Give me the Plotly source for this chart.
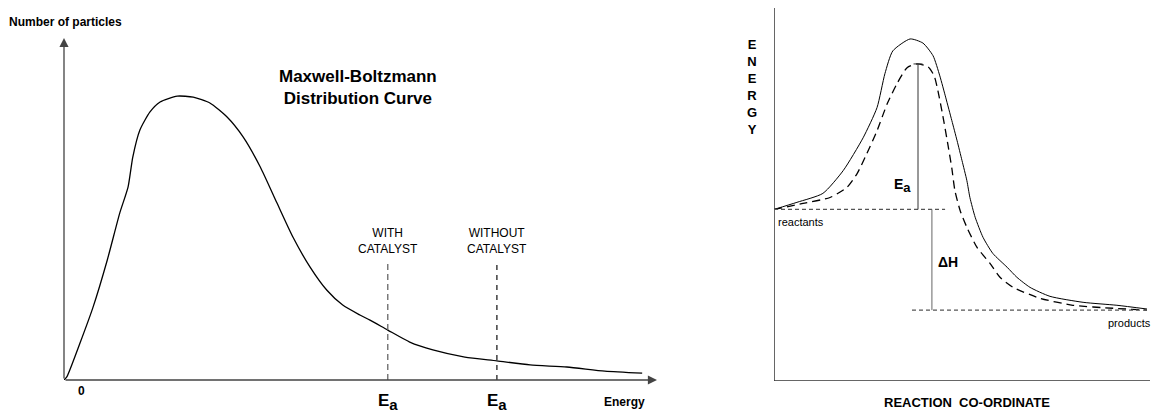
import plotly.graph_objects as go

# ---------------- Left panel: Maxwell-Boltzmann distribution ----------------
mb_energy = [0, 0.05, 0.27, 0.49, 0.73, 0.94, 1.08, 1.16, 1.28, 1.45, 1.62, 1.91, 2.18, 2.46,
             2.75, 3.02, 3.31, 3.59, 3.86, 4.15, 4.43, 4.70, 4.99, 5.16, 5.46, 5.83, 6.22,
             6.76, 7.30, 7.86, 8.48, 9.12, 9.75]
mb_particles = [0, 0.10, 1.08, 2.13, 3.51, 4.88, 5.64, 6.52, 7.31, 7.84, 8.13, 8.30, 8.27, 8.10,
                7.69, 7.11, 6.23, 5.18, 4.18, 3.30, 2.63, 2.19, 1.90, 1.75, 1.46, 1.11, 0.88,
                0.67, 0.56, 0.44, 0.38, 0.26, 0.20]
ea_positions = [5.46, 7.30]
ea_labels = ["WITH<br>CATALYST", "WITHOUT<br>CATALYST"]
ea_line_top = 3.45

# ---------------- Right panel: energy profile ----------------
rc_solid = [0, 0.61, 1.30, 1.84, 2.37, 2.74, 2.95, 3.16, 3.62, 3.96, 4.23, 4.41, 4.57, 4.73,
            4.87, 5.00, 5.13, 5.21, 5.35, 5.56, 5.82, 6.20, 6.46, 6.81, 7.34, 8.22, 9.12, 9.92]
en_solid = [4.60, 4.79, 5.03, 5.64, 6.52, 7.33, 8.24, 8.85, 9.17, 9.06, 8.72, 8.18, 7.59, 6.98,
            6.44, 5.91, 5.37, 4.92, 4.39, 3.85, 3.42, 3.05, 2.78, 2.51, 2.27, 2.11, 2.03, 1.93]
rc_dash = [0, 0.77, 1.49, 1.94, 2.21, 2.47, 2.74, 3.01, 3.27, 3.54, 3.80, 4.10, 4.26, 4.36,
           4.49, 4.63, 4.73, 4.81, 4.95, 5.13, 5.40, 5.74, 6.01, 6.36, 7.07, 7.95, 9.02, 9.92]
en_dash = [4.60, 4.76, 4.92, 5.19, 5.56, 6.10, 6.71, 7.43, 7.97, 8.40, 8.50, 8.42, 8.18, 7.78,
           7.11, 6.31, 5.70, 5.11, 4.57, 4.12, 3.58, 3.16, 2.78, 2.51, 2.22, 2.03, 1.95, 1.90]
reactant_level = 4.60
product_level = 1.90
catalysed_peak = 8.50
ea_x = 3.83
dh_x = 4.20
reactant_line_end = 4.55
product_line_start = 3.67

FONT = "Liberation Sans, Arial, sans-serif"
AX = "#444444"

# body margin is removed in the page, so the figure fills the whole 1152x412 window
W, H, OFF = 1152, 412, 0
L_X0, L_X1, L_Y0, L_Y1 = 64, 657, 380, 38      # left plot area (window px)


def px(xp):
    return (xp - OFF) / W


def py(yp):
    return 1 - (yp - OFF) / H


def left_x_paper(x):
    """left-panel energy value -> paper x (for labels drawn below the axis)"""
    return px(L_X0 + x / 10 * (L_X1 - L_X0))


fig = go.Figure()

fig.add_trace(go.Scatter(x=mb_energy, y=mb_particles, mode="lines",
                         line=dict(color="black", width=1.3, shape="spline", smoothing=0.6),
                         xaxis="x", yaxis="y", hoverinfo="skip", showlegend=False))
fig.add_trace(go.Scatter(x=rc_solid, y=en_solid, mode="lines",
                         line=dict(color="black", width=1.0, shape="spline", smoothing=0.6),
                         xaxis="x2", yaxis="y2", hoverinfo="skip", showlegend=False))
fig.add_trace(go.Scatter(x=rc_dash, y=en_dash, mode="lines",
                         line=dict(color="black", width=1.3, shape="spline", smoothing=0.6,
                                   dash="8px,5px"),
                         xaxis="x2", yaxis="y2", hoverinfo="skip", showlegend=False))

shapes = []
for i, xe in enumerate(ea_positions):
    shapes.append(dict(type="line", xref="x", yref="y", x0=xe, x1=xe, y0=0, y1=ea_line_top,
                       line=dict(color="#666666" if i == 0 else "#222222", width=1.3,
                                 dash="6px,4px" if i == 0 else "5px,5px")))
shapes.append(dict(type="line", xref="x2", yref="y2", x0=0, x1=0, y0=0, y1=10,
                   line=dict(color="#333333", width=1.5)))
shapes.append(dict(type="line", xref="x2", yref="y2", x0=0, x1=10, y0=0, y1=0,
                   line=dict(color="#333333", width=1.5)))
shapes.append(dict(type="line", xref="x2", yref="y2", x0=0, x1=reactant_line_end,
                   y0=reactant_level, y1=reactant_level,
                   line=dict(color="#555555", width=1.2, dash="4px,3px")))
shapes.append(dict(type="line", xref="x2", yref="y2", x0=product_line_start, x1=9.95,
                   y0=product_level, y1=product_level,
                   line=dict(color="#555555", width=1.2, dash="4px,3px")))
shapes.append(dict(type="line", xref="x2", yref="y2", x0=ea_x, x1=ea_x,
                   y0=reactant_level, y1=catalysed_peak, line=dict(color="#333333", width=1)))
shapes.append(dict(type="line", xref="x2", yref="y2", x0=ea_x - 0.12, x1=ea_x + 0.12,
                   y0=catalysed_peak, y1=catalysed_peak, line=dict(color="#333333", width=1)))
shapes.append(dict(type="line", xref="x2", yref="y2", x0=dh_x, x1=dh_x,
                   y0=product_level, y1=reactant_level, line=dict(color="#666666", width=1)))

ann = []
ann.append(dict(x=0, y=10, ax=0, ay=0, xref="x", yref="y", axref="x", ayref="y", text="",
                showarrow=True, arrowhead=2, arrowsize=1.4, arrowwidth=1.3, arrowcolor=AX,
                standoff=0))
ann.append(dict(x=10, y=0, ax=0, ay=0, xref="x", yref="y", axref="x", ayref="y", text="",
                showarrow=True, arrowhead=2, arrowsize=1.4, arrowwidth=1.3, arrowcolor=AX,
                standoff=0))


def txt(text, x, y, size, bold=False, xref="x", yref="y", xanchor="center", yanchor="middle",
        align="center"):
    t = f"<b>{text}</b>" if bold else text
    return dict(text=t, x=x, y=y, xref=xref, yref=yref, xanchor=xanchor, yanchor=yanchor,
                align=align, showarrow=False, font=dict(family=FONT, size=size, color="black"))


ann.append(txt("Number of particles", px(7), py(22), 12, True, "paper", "paper",
               xanchor="left"))
ann.append(txt("Maxwell-Boltzmann<br>Distribution Curve", 4.96, 8.54, 17, True))
ann.append(txt("0", left_x_paper(0.30), py(391), 12, True, "paper", "paper"))
ann.append(txt("Energy", px(624), py(402), 12, True, "paper", "paper"))
for xe, lab in zip(ea_positions, ea_labels):
    ann.append(txt(lab, xe, 4.05, 12))
    ann.append(txt("E<sub><span style='font-size:15px'>a</span></sub>", left_x_paper(xe),
                   py(389), 17, True, "paper", "paper", yanchor="top"))

ann.append(txt("E<br>N<br>E<br>R<br>G<br>Y", px(752), py(87), 13, True, "paper", "paper"))
ann.append(txt("REACTION&nbsp;&nbsp;CO-ORDINATE", px(967), py(402), 13, True,
               "paper", "paper"))
ann.append(txt("reactants", 0.06, 4.25, 11, xref="x2", yref="y2", xanchor="left"))
ann.append(txt("products", px(1153), py(323), 11, xref="paper", yref="paper",
               xanchor="right"))
ann.append(txt("E<sub><span style='font-size:13px'>a</span></sub>", 3.43, 5.24, 14, True,
               "x2", "y2"))
ann.append(txt("ΔH", 4.63, 3.18, 14, True, "x2", "y2"))

hidden = dict(visible=False, range=[0, 10], fixedrange=True)
fig.update_layout(
    width=W, height=H, margin=dict(l=0, r=0, t=0, b=0),
    paper_bgcolor="white", plot_bgcolor="white", showlegend=False, hovermode=False,
    xaxis=dict(domain=[px(L_X0), px(L_X1)], **hidden),
    yaxis=dict(domain=[py(L_Y0), py(L_Y1)], **hidden),
    xaxis2=dict(domain=[px(774), px(1150)], anchor="y2", **hidden),
    yaxis2=dict(domain=[py(381), py(8)], anchor="x2", **hidden),
    shapes=shapes, annotations=ann,
)

fig.write_html(
    "out.html",
    config={"displayModeBar": False},
    post_script="document.body.style.margin='0';"
                "document.documentElement.style.overflow='hidden';"
                "document.body.style.overflow='hidden';",
)
